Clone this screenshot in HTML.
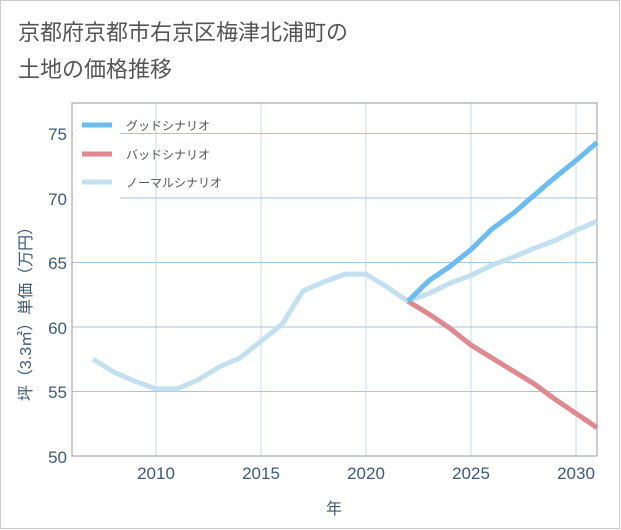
<!DOCTYPE html>
<html><head><meta charset="utf-8"><style>
body{margin:0;background:#fff;}
svg{display:block;font-family:"Liberation Sans","Noto Sans CJK JP",sans-serif;}
</style></head><body>
<svg width="621" height="530" viewBox="0 0 621 530">
<rect x="0.5" y="0.5" width="619" height="528" fill="#fff" stroke="#ccc"/>
<text x="18" y="40" font-size="22" fill="#555">京都府京都市右京区梅津北浦町の</text>
<text x="18" y="77" font-size="22" fill="#555">土地の価格推移</text>
<g stroke="#c8d8e8" stroke-width="1">
<line x1="156" y1="103" x2="156" y2="456"/><line x1="261" y1="103" x2="261" y2="456"/>
<line x1="366" y1="103" x2="366" y2="456"/><line x1="471" y1="103" x2="471" y2="456"/>
<line x1="576" y1="103" x2="576" y2="456"/>
</g>
<g stroke="#a9c4e0" stroke-width="1">
<line x1="72" y1="133.5" x2="597" y2="133.5"/><line x1="72" y1="198" x2="597" y2="198"/>
<line x1="72" y1="262.5" x2="597" y2="262.5"/><line x1="72" y1="327" x2="597" y2="327"/>
<line x1="72" y1="391.5" x2="597" y2="391.5"/>
</g>
<rect x="72" y="103" width="525" height="353" fill="none" stroke="#999"/>
<g transform="translate(-42054,1101) scale(21,-12.9)" fill="none" stroke-width="5" stroke-linejoin="round">
<polyline vector-effect="non-scaling-stroke" stroke="#c2e0f0" points="2007,57.5 2008,56.5 2009,55.8 2010,55.2 2011,55.2 2012,55.9 2013,56.9 2014,57.6 2015,58.9 2016,60.2 2017,62.8 2018,63.5 2019,64.1 2020,64.1 2021,63.1 2022,62.0 2023,62.6 2024,63.4 2025,64.0 2026,64.8 2027,65.4 2028,66.1 2029,66.7 2030,67.5 2031,68.2"/>
<polyline vector-effect="non-scaling-stroke" stroke="#e08890" points="2022,62 2023,61.0 2024,59.9 2025,58.6 2026,57.6 2027,56.6 2028,55.6 2029,54.4 2030,53.3 2031,52.2"/>
<polyline vector-effect="non-scaling-stroke" stroke="#6bbcf0" points="2022,62 2023,63.6 2024,64.7 2025,66.0 2026,67.6 2027,68.8 2028,70.2 2029,71.6 2030,72.9 2031,74.3"/>
</g>
<rect x="73" y="104" width="47" height="100" fill="#fff"/>
<g stroke-width="5">
<line x1="82" y1="125" x2="112" y2="125" stroke="#6bbcf0"/>
<line x1="82" y1="154" x2="112" y2="154" stroke="#e08890"/>
<line x1="82" y1="182" x2="112" y2="182" stroke="#c2e0f0"/>
</g>
<g font-size="12" fill="#555">
<text x="126" y="130">グッドシナリオ</text>
<text x="126" y="159">バッドシナリオ</text>
<text x="126" y="187">ノーマルシナリオ</text>
</g>
<g font-size="17" fill="#3d5a78" text-anchor="end">
<text x="67" y="140">75</text><text x="67" y="205">70</text><text x="67" y="269">65</text>
<text x="67" y="334">60</text><text x="67" y="398">55</text><text x="67" y="463">50</text>
</g>
<g font-size="17" fill="#3d5a78" text-anchor="middle">
<text x="156" y="479">2010</text><text x="261" y="479">2015</text><text x="366" y="479">2020</text>
<text x="471" y="479">2025</text><text x="576" y="479">2030</text>
</g>
<text x="334" y="514" font-size="16" fill="#3d5a78" text-anchor="middle">年</text>
<text transform="translate(31,310) rotate(-90)" font-size="16" fill="#3d5a78" text-anchor="middle">坪（3.3㎡）単価（万円）</text>
</svg>
</body></html>
